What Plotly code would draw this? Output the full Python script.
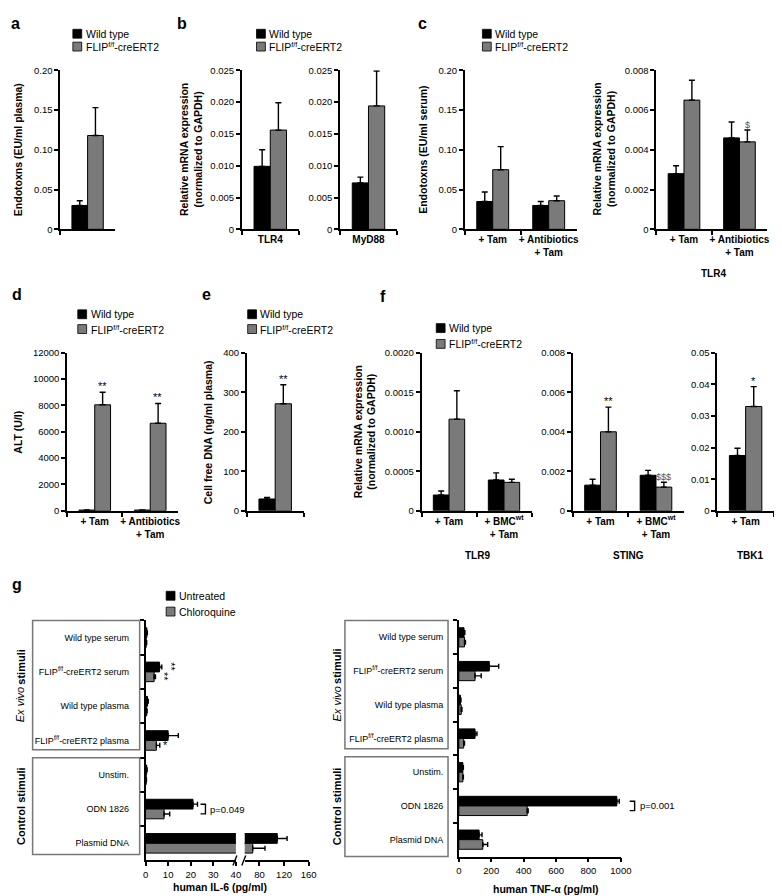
import plotly.graph_objects as go

W, H = 782, 896
FONT = "Liberation Sans, Arial, Helvetica, sans-serif"
BLACK = "#000000"
GRAY = "#7a7a7a"

WT = "Wild type"
FF = "FLIP<sup>f/f</sup>-creERT2"

# ---------------- data ----------------
a_cats = ["Endotoxins"]
a_wt, a_wt_err = [0.030], [0.006]
a_ff, a_ff_err = [0.118], [0.035]
a_ticks = [0, 0.05, 0.10, 0.15, 0.20]
a_ticktext = ["0", "0.05", "0.10", "0.15", "0.20"]

b1_cats = ["TLR4"]
b1_wt, b1_wt_err = [0.0099], [0.0026]
b1_ff, b1_ff_err = [0.0156], [0.0043]
b2_cats = ["MyD88"]
b2_wt, b2_wt_err = [0.0073], [0.0009]
b2_ff, b2_ff_err = [0.0194], [0.0055]
b_ticks = [0, 0.005, 0.010, 0.015, 0.020, 0.025]
b_ticktext = ["0", "0.005", "0.010", "0.015", "0.020", "0.025"]

c_cats = ["+ Tam", "+ Antibiotics<br>+ Tam"]
c1_wt, c1_wt_err = [0.035, 0.030], [0.012, 0.005]
c1_ff, c1_ff_err = [0.075, 0.036], [0.029, 0.006]
c1_ticks = [0, 0.05, 0.10, 0.15, 0.20]
c1_ticktext = ["0", "0.05", "0.10", "0.15", "0.20"]
c2_wt, c2_wt_err = [0.0028, 0.0046], [0.0004, 0.0008]
c2_ff, c2_ff_err = [0.0065, 0.0044], [0.0010, 0.0006]
c2_ticks = [0, 0.002, 0.004, 0.006, 0.008]
c2_ticktext = ["0", "0.002", "0.004", "0.006", "0.008"]

d_cats = ["+ Tam", "+ Antibiotics<br>+ Tam"]
d_wt, d_wt_err = [60, 60], [10, 10]
d_ff, d_ff_err = [8050, 6650], [950, 1500]
d_ticks = [0, 2000, 4000, 6000, 8000, 10000, 12000]
d_ticktext = ["0", "2000", "4000", "6000", "8000", "10000", "12000"]

e_cats = ["cfDNA"]
e_wt, e_wt_err = [30], [4]
e_ff, e_ff_err = [271], [48]
e_ticks = [0, 100, 200, 300, 400]
e_ticktext = ["0", "100", "200", "300", "400"]

f_cats = ["+ Tam", "+ BMC<sup>wt</sup><br>+ Tam"]
f1_wt, f1_wt_err = [0.00020, 0.00039], [0.00005, 0.00009]
f1_ff, f1_ff_err = [0.00116, 0.00036], [0.00036, 0.00004]
f1_ticks = [0, 0.0005, 0.0010, 0.0015, 0.0020]
f1_ticktext = ["0", "0.0005", "0.0010", "0.0015", "0.0020"]
f2_wt, f2_wt_err = [0.0013, 0.0018], [0.0003, 0.00025]
f2_ff, f2_ff_err = [0.0040, 0.0012], [0.00125, 0.00025]
f2_ticks = [0, 0.002, 0.004, 0.006, 0.008]
f2_ticktext = ["0", "0.002", "0.004", "0.006", "0.008"]
f3_cats = ["+ Tam"]
f3_wt, f3_wt_err = [0.0175], [0.0023]
f3_ff, f3_ff_err = [0.0330], [0.0063]
f3_ticks = [0, 0.01, 0.02, 0.03, 0.04, 0.05]
f3_ticktext = ["0", "0.01", "0.02", "0.03", "0.04", "0.05"]

g_cats = ["Wild type serum", "FLIP<sup>f/f</sup>-creERT2 serum", "Wild type plasma",
          "FLIP<sup>f/f</sup>-creERT2 plasma", "Unstim.", "ODN 1826", "Plasmid DNA"]
il6_unt = [0.6, 6.2, 0.9, 10.0, 0.5, 21.0, 109]
il6_unt_err = [0.2, 1.0, 0.3, 4.5, 0.2, 2.0, 16]
il6_chl = [0.3, 3.8, 0.5, 4.8, 0.3, 8.2, 69]
il6_chl_err = [0.2, 0.6, 0.2, 1.5, 0.1, 2.5, 20]
il6_ticks1 = [0, 10, 20, 30, 40]
il6_ticks2 = [80, 120, 160]
tnf_unt = [32, 188, 10, 100, 25, 975, 125]
tnf_unt_err = [5, 58, 3, 12, 3, 15, 18]
tnf_chl = [35, 100, 15, 30, 25, 422, 148]
tnf_chl_err = [6, 38, 4, 5, 3, 6, 30]
tnf_ticks = [0, 200, 400, 600, 800, 1000]

# ---------------- helpers ----------------
fig = go.Figure()
axes = {}
annotations = []
shapes = []
counter = [0]


def new_axes():
    counter[0] += 1
    n = counter[0]
    s = "" if n == 1 else str(n)
    return "x" + s, "y" + s, "xaxis" + s, "yaxis" + s


def axline():
    return dict(showline=True, linecolor="black", linewidth=1.5, ticks="outside",
                ticklen=4, tickwidth=1.5, tickcolor="black", showgrid=False,
                zeroline=False, tickangle=0)


def err_v(e):
    return dict(type="data", array=e, arrayminus=[0] * len(e), symmetric=False,
                color="black", thickness=1.4, width=3)


def vpanel(cats, wt, wt_err, ff, ff_err, xd, yd, yvals, ytext, show_x=True):
    xr, yr, xk, yk = new_axes()
    fig.add_trace(go.Bar(x=cats, y=wt, error_y=err_v(wt_err), name=WT,
                         marker=dict(color=BLACK, line=dict(color="black", width=1)),
                         xaxis=xr, yaxis=yr, showlegend=False))
    fig.add_trace(go.Bar(x=cats, y=ff, error_y=err_v(ff_err), name=FF,
                         marker=dict(color=GRAY, line=dict(color="black", width=1)),
                         xaxis=xr, yaxis=yr, showlegend=False))
    axes[xk] = dict(axline(), domain=[xd[0] / W, xd[1] / W], anchor=yr, type="category",
                    tickson="boundaries", showticklabels=show_x, range=[-0.5, len(cats) - 0.5],
                    tickfont=dict(size=10, family=FONT, color="black", weight="bold"))
    axes[yk] = dict(axline(), domain=[1 - yd[1] / H, 1 - yd[0] / H], anchor=xr,
                    range=[0, yvals[-1]], tickvals=yvals, ticktext=ytext,
                    tickfont=dict(size=9.5, family=FONT, color="black"))
    return xr, yr


def text(x, y, s, size=10, angle=0, xanchor="center", yanchor="middle", color="black",
         weight="normal", style="normal"):
    annotations.append(dict(x=x / W, y=1 - y / H, xref="paper", yref="paper", text=s,
                            showarrow=False, textangle=angle, xanchor=xanchor,
                            yanchor=yanchor,
                            font=dict(size=size, family=FONT, color=color, weight=weight,
                                      style=style)))


def btext(x, y, s, size=10.5, angle=0, xanchor="center"):
    text(x, y, s, size=size, angle=angle, xanchor=xanchor, weight="bold")


def star(xr, yr, x, y, s, size=11, color="black"):
    annotations.append(dict(x=x, y=y, xref=xr, yref=yr, text=s, showarrow=False,
                            xanchor="center", yanchor="bottom", yshift=-2,
                            font=dict(size=size, family=FONT, color=color)))


def legend(xsq, y1, y2, labels, colors):
    for yy, lab, col in zip((y1, y2), labels, colors):
        shapes.append(dict(type="rect", xref="paper", yref="paper",
                           x0=xsq / W, x1=(xsq + 9) / W, y0=1 - (yy + 4.5) / H,
                           y1=1 - (yy - 4.5) / H, fillcolor=col,
                           line=dict(color="black", width=0.8)))
        text(xsq + 11, yy, lab, size=10.5, xanchor="left")


OFF = 0.14  # offset of 2nd bar centre within a category

# ---------------- row 1 ----------------
TOP1, BOT1 = 57, 218
vpanel(a_cats, a_wt, a_wt_err, a_ff, a_ff_err, (50, 106), (TOP1, BOT1), a_ticks, a_ticktext, show_x=False)
vpanel(b1_cats, b1_wt, b1_wt_err, b1_ff, b1_ff_err, (235, 293), (TOP1, BOT1), b_ticks, b_ticktext)
vpanel(b2_cats, b2_wt, b2_wt_err, b2_ff, b2_ff_err, (335, 393), (TOP1, BOT1), b_ticks, b_ticktext)
vpanel(c_cats, c1_wt, c1_wt_err, c1_ff, c1_ff_err, (462, 576), (TOP1, BOT1), c1_ticks, c1_ticktext)
xr, yr = vpanel(c_cats, c2_wt, c2_wt_err, c2_ff, c2_ff_err, (657, 770), (TOP1, BOT1), c2_ticks, c2_ticktext)
star(xr, yr, 1 + OFF, c2_ff[1] + c2_ff_err[1], "$", size=9, color="#555555")

# ---------------- row 2 ----------------
TOP2, BOT2 = 343, 503
xr, yr = vpanel(d_cats, d_wt, d_wt_err, d_ff, d_ff_err, (57, 170), (TOP2, BOT2), d_ticks, d_ticktext)
for i in range(2):
    star(xr, yr, i + OFF, d_ff[i] + d_ff_err[i], "**")
xr, yr = vpanel(e_cats, e_wt, e_wt_err, e_ff, e_ff_err, (240, 298), (TOP2, BOT2), e_ticks, e_ticktext, show_x=False)
star(xr, yr, OFF, e_ff[0] + e_ff_err[0], "**")
vpanel(f_cats, f1_wt, f1_wt_err, f1_ff, f1_ff_err, (418, 530), (TOP2, BOT2), f1_ticks, f1_ticktext)
xr, yr = vpanel(f_cats, f2_wt, f2_wt_err, f2_ff, f2_ff_err, (572, 685), (TOP2, BOT2), f2_ticks, f2_ticktext)
star(xr, yr, OFF, f2_ff[0] + f2_ff_err[0], "**")
star(xr, yr, 1 + OFF, f2_ff[1] + f2_ff_err[1], "$$$", size=9, color="#555555")
xr, yr = vpanel(f3_cats, f3_wt, f3_wt_err, f3_ff, f3_ff_err, (719, 777), (TOP2, BOT2), f3_ticks, f3_ticktext)
star(xr, yr, OFF, f3_ff[0] + f3_ff_err[0], "*")

# ---------------- row 3 (g) ----------------
def err_h(e):
    return dict(type="data", array=e, arrayminus=[0] * len(e), symmetric=False,
                color="black", thickness=1.4, width=2.5)


GT, GB_L, GB_R = 614, 857, 853
gx1, gy, gx1k, gyk = new_axes()
gx2, _unused, gx2k, _unusedk = new_axes()
seg1_lim = il6_ticks1[-1]
for vals, errs, col, nm in ((il6_unt, il6_unt_err, BLACK, "Untreated"),
                            (il6_chl, il6_chl_err, GRAY, "Chloroquine")):
    fig.add_trace(go.Bar(y=g_cats, x=vals, orientation="h", name=nm,
                         error_x=err_h([e if v <= seg1_lim else 0 for v, e in zip(vals, errs)]),
                         marker=dict(color=col, line=dict(color="black", width=1)),
                         xaxis=gx1, yaxis=gy, showlegend=False))
for vals, errs, col, nm in ((il6_unt, il6_unt_err, BLACK, "Untreated"),
                            (il6_chl, il6_chl_err, GRAY, "Chloroquine")):
    fig.add_trace(go.Bar(y=g_cats, x=[v if v > seg1_lim else None for v in vals],
                         orientation="h", name=nm,
                         error_x=err_h([e if v > seg1_lim else 0 for v, e in zip(vals, errs)]),
                         marker=dict(color=col, line=dict(color="black", width=1)),
                         xaxis=gx2, yaxis=gy, showlegend=False))
axes[gx1k] = dict(axline(), domain=[137 / W, 229 / W], anchor=gy, range=[0, 40],
                  tickvals=il6_ticks1, tickfont=dict(size=9.5, family=FONT, color="black"))
axes[gx2k] = dict(axline(), domain=[238 / W, 303 / W], anchor=gy, range=[56, 160],
                  tickvals=il6_ticks2, tickfont=dict(size=9.5, family=FONT, color="black"))
axes[gyk] = dict(axline(), domain=[1 - GB_L / H, 1 - GT / H], anchor=gx1, type="category",
                 autorange="reversed", tickson="boundaries", ticklabelstandoff=13,
                 tickfont=dict(size=9, family=FONT, color="black"))

gx3, gy3, gx3k, gy3k = new_axes()
for vals, errs, col, nm in ((tnf_unt, tnf_unt_err, BLACK, "Untreated"),
                            (tnf_chl, tnf_chl_err, GRAY, "Chloroquine")):
    fig.add_trace(go.Bar(y=g_cats, x=vals, orientation="h", name=nm, error_x=err_h(errs),
                         marker=dict(color=col, line=dict(color="black", width=1)),
                         xaxis=gx3, yaxis=gy3, showlegend=False))
axes[gx3k] = dict(axline(), domain=[456 / W, 621 / W], anchor=gy3, range=[0, 1000],
                  tickvals=tnf_ticks, tickfont=dict(size=9.5, family=FONT, color="black"))
axes[gy3k] = dict(axline(), domain=[1 - GB_R / H, 1 - GT / H], anchor=gx3, type="category",
                  autorange="reversed", tickson="boundaries", ticklabelstandoff=12,
                  tickfont=dict(size=9, family=FONT, color="black"))

# significance marks in g
for idx, val, err, dy in ((1, il6_unt[1], il6_unt_err[1], -OFF), (1, il6_chl[1], il6_chl_err[1], OFF)):
    annotations.append(dict(x=val + err + 0.5, y=idx + dy, xref=gx1, yref=gy, text="**",
                            textangle=90, showarrow=False, xanchor="left", yanchor="middle",
                            font=dict(size=11, family=FONT, color="black")))
annotations.append(dict(x=il6_chl[3] + il6_chl_err[3] + 0.5, y=3 + OFF, xref=gx1, yref=gy, text="*",
                        showarrow=False, xanchor="left", yanchor="middle",
                        font=dict(size=11, family=FONT, color="black")))

# p-value brackets
for xb, yref_ax, ptxt in ((193, gy, "p=0.049"), (630, gy3, "p=0.001")):
    shapes.append(dict(type="path", xref="paper", yref=yref_ax,
                       path=f"M {xb / W},{5 - OFF} L {(xb + 5) / W},{5 - OFF} L {(xb + 5) / W},{5 + OFF} L {xb / W},{5 + OFF}",
                       line=dict(color="black", width=1.4)))
    annotations.append(dict(x=(xb + 8) / W, y=5, xref="paper", yref=yref_ax, text=ptxt,
                            showarrow=False, xanchor="left", yanchor="middle",
                            font=dict(size=9.5, family=FONT, color="black")))

# axis break marks
for x0 in (226, 235):
    shapes.append(dict(type="line", xref="paper", yref="paper", x0=x0 / W, x1=(x0 + 4) / W,
                       y0=1 - 862 / H, y1=1 - 852 / H, line=dict(color="black", width=1.4)))

# boxes around stimuli labels
for bx0, bx1, boxes in ((22, 131, ((614, 745), (753, 851))), (340, 445, ((614, 744), (752, 853)))):
    for by0, by1 in boxes:
        shapes.append(dict(type="rect", xref="paper", yref="paper", x0=bx0 / W, x1=bx1 / W,
                           y0=1 - by1 / H, y1=1 - by0 / H, line=dict(color="#777777", width=1.5)))
for xs in (10, 332):
    text(xs, 699, "Ex vivo", size=11, angle=-90, style="italic")
    text(xs, 661, "stimuli", size=11, angle=-90, weight="bold")
    text(xs, 802, "Control stimuli", size=11, angle=-90, weight="bold")

# ---------------- titles / labels ----------------
btext(7, 137, "Endotoxns (EU/ml plasma)", angle=-90)
btext(184, 137, "Relative mRNA expression<br>(normalized to GAPDH)", angle=-90)
btext(420, 137, "Endotoxns (EU/ml serum)", angle=-90)
btext(604, 137, "Relative mRNA expression<br>(normalized to GAPDH)", angle=-90)
btext(715, 263, "TLR4", size=10)
btext(7, 423, "ALT (U/l)", angle=-90)
btext(200, 423, "Cell free DNA (ng/ml plasma)", angle=-90)
btext(360, 423, "Relative mRNA expression<br>(normalized to GAPDH)", angle=-90)
btext(475, 548, "TLR9", size=10)
btext(629, 548, "STING", size=10)
btext(753, 548, "TBK1", size=10)
btext(213, 884, "human IL-6 (pg/ml)")
btext(545, 886, "human TNF-α (pg/ml)")

for lx, ly, lab in ((5, 10, "a"), (174, 10, "b"), (419, 10, "c"), (6, 284, "d"),
                    (199, 284, "e"), (379, 286, "f"), (6, 578, "g")):
    btext(lx, ly, lab, size=16)

legend(63, 20, 33, (WT, FF), (BLACK, GRAY))
legend(250, 20, 33, (WT, FF), (BLACK, GRAY))
legend(480, 20, 33, (WT, FF), (BLACK, GRAY))
legend(68, 304, 319, (WT, FF), (BLACK, GRAY))
legend(241, 304, 319, (WT, FF), (BLACK, GRAY))
legend(433, 318, 334, (WT, FF), (BLACK, GRAY))
legend(158, 589, 605, ("Untreated", "Chloroquine"), (BLACK, GRAY))

fig.update_layout(
    width=W, height=H, autosize=False,
    margin=dict(l=0, r=0, t=0, b=0),
    paper_bgcolor="white", plot_bgcolor="white",
    barmode="group", bargap=0.43, bargroupgap=0,
    font=dict(family=FONT, color="black"),
    annotations=annotations, shapes=shapes,
    showlegend=False,
    **axes,
)

fig.write_html("out.html")
